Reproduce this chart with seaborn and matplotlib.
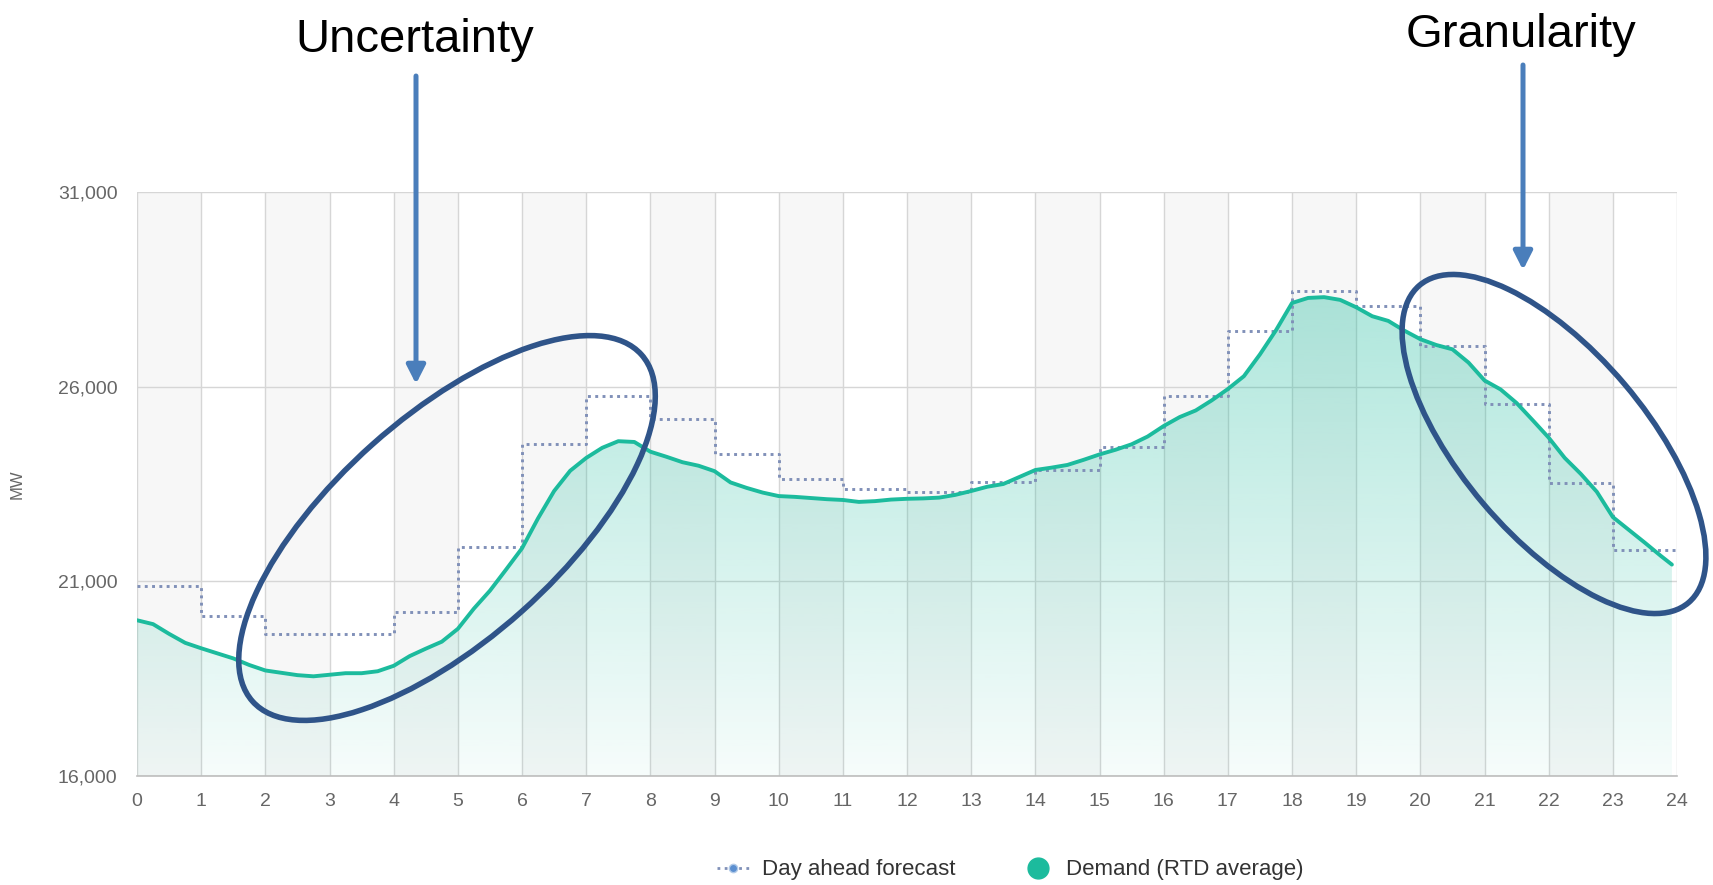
import numpy as np
import pandas as pd
import matplotlib
matplotlib.use("Agg")
import matplotlib.pyplot as plt
import matplotlib.colors as mcolors
import seaborn as sns
from matplotlib.patches import Ellipse
from matplotlib.lines import Line2D
from matplotlib.ticker import FuncFormatter

# ---- data -------------------------------------------------------------
# Real-time demand, quarter-hour readings (MW)
demand_hours = [i * 0.25 for i in range(96)] + [23.92]
demand_mw = [
    20000, 19900, 19650, 19420, 19280, 19150, 19020, 18850,   # 0-2
    18710, 18650, 18590, 18560, 18600, 18640, 18640, 18690,   # 2-4
    18830, 19080, 19270, 19450, 19780, 20300, 20760, 21300,   # 4-6
    21850, 22620, 23320, 23840, 24170, 24430, 24600, 24580,   # 6-8
    24330, 24200, 24060, 23970, 23830, 23540, 23400, 23280,   # 8-10
    23190, 23170, 23140, 23110, 23090, 23040, 23060, 23100,   # 10-12
    23120, 23130, 23150, 23220, 23320, 23430, 23500, 23680,   # 12-14
    23860, 23920, 23990, 24120, 24260, 24380, 24520, 24720,   # 14-16
    24990, 25220, 25390, 25650, 25940, 26270, 26830, 27450,   # 16-18
    28150, 28280, 28300, 28230, 28040, 27810, 27690, 27440,   # 18-20
    27220, 27070, 26960, 26620, 26160, 25930, 25580, 25140,   # 20-22
    24690, 24170, 23760, 23300, 22650, 22320, 21990, 21650,   # 22-24
    21430,
]

# Day-ahead hourly forecast (MW), one value per hour 0..23
forecast_hours = list(range(25))
forecast_mw = [
    20880, 20100, 19650, 19650, 20210, 21890, 24540, 25760,
    25160, 24270, 23640, 23360, 23300, 23550, 23860, 24440,
    25770, 27440, 28470, 28080, 27050, 25560, 23520, 21810,
]
forecast_steps = forecast_mw + [forecast_mw[-1]]

x_ticks = list(range(25))
y_ticks = [16000, 21000, 26000, 31000]
legend_labels = ["Day ahead forecast", "Demand (RTD average)"]
callout_labels = ["Uncertainty", "Granularity"]

# ---- style ------------------------------------------------------------
sns.set_theme(style="white")
plt.rcParams["font.family"] = ["Liberation Sans", "DejaVu Sans"]

TEAL = "#1cbb9d"
FORECAST = "#8090b8"
GRID = "#d6d6d6"
BAND = "#f7f7f7"
TICK = "#666666"

fig = plt.figure(figsize=(17.13, 8.85), dpi=100)
ax = fig.add_axes([0.080, 0.1232, 0.899, 0.6598])

# alternating hour bands
for h in range(0, 24, 2):
    ax.axvspan(h, h + 1, color=BAND, lw=0, zorder=0)

# gradient area under the demand curve
area = ax.fill_between(demand_hours, demand_mw, y_ticks[0],
                       facecolor="none", edgecolor="none")
grad = np.zeros((256, 1, 4))
grad[..., :3] = mcolors.to_rgb(TEAL)
grad[:, 0, 3] = np.linspace(0.42, 0.04, 256)
img = ax.imshow(grad, extent=[0, 24, y_ticks[0], y_ticks[-1]],
                aspect="auto", origin="upper", zorder=1,
                interpolation="bilinear")
img.set_clip_path(area.get_paths()[0], transform=ax.transData)

df_fc = pd.DataFrame({"hour": forecast_hours, "MW": forecast_steps})
sns.lineplot(data=df_fc, x="hour", y="MW", ax=ax, color=FORECAST,
             lw=2.1, drawstyle="steps-post", linestyle=(0, (1, 1.5)),
             dash_capstyle="butt", zorder=3)

df_rtd = pd.DataFrame({"hour": demand_hours, "MW": demand_mw})
sns.lineplot(data=df_rtd, x="hour", y="MW", ax=ax, color=TEAL,
             lw=2.8, zorder=4)

ax.set_xlim(0, 24)
ax.set_ylim(y_ticks[0], y_ticks[-1])
ax.set_xticks(x_ticks)
ax.set_yticks(y_ticks)
ax.yaxis.set_major_formatter(FuncFormatter(lambda v, p: f"{int(v):,}"))
ax.grid(True, color=GRID, lw=1.0)
ax.set_axisbelow(True)
ax.tick_params(length=0, labelsize=14, colors=TICK)
ax.tick_params(axis="y", pad=14)
ax.tick_params(axis="x", pad=12)
for s in ["left", "right", "top"]:
    ax.spines[s].set_visible(False)
ax.spines["bottom"].set_color("#bdbdbd")
ax.spines["bottom"].set_linewidth(1.2)
ax.set_xlabel("")
ax.set_ylabel("MW", fontsize=12, color=TICK)
ax.yaxis.set_label_coords(-0.073, 0.5)

# legend
h_fc = Line2D([], [], color=FORECAST, lw=2, linestyle=(0, (1, 1.6)),
              marker="o", markersize=6, markerfacecolor="#5b8fd0",
              markeredgecolor="#b3cbe8")
h_rtd = Line2D([], [], lw=0, marker="o", markersize=15, color=TEAL)
fig.legend([h_fc, h_rtd], legend_labels, loc="center",
           bbox_to_anchor=(0.59, 0.017), ncol=2, frameon=False,
           fontsize=16, handlelength=1.4, handletextpad=0.6,
           columnspacing=3.0, labelcolor="#333333")

# callouts drawn in figure pixel space
ov = fig.add_axes([0, 0, 1, 1], zorder=10)
ov.set_xlim(0, 1713)
ov.set_ylim(885, 0)
ov.axis("off")
ov.patch.set_alpha(0)

ARROW = "#4a7ebb"
RING = "#2f5489"
ov.text(415, 40, callout_labels[0], ha="center", va="center",
        fontsize=34, color="black")
ov.text(1521, 35, callout_labels[1], ha="center", va="center",
        fontsize=34, color="black")
arrow_style = dict(arrowstyle="-|>,head_length=0.55,head_width=0.28",
                   color=ARROW, lw=3.6, shrinkA=0, shrinkB=0,
                   mutation_scale=20)
ov.annotate("", xy=(416, 384), xytext=(416, 76), arrowprops=arrow_style)
ov.annotate("", xy=(1523, 270), xytext=(1523, 65), arrowprops=arrow_style)
ov.add_patch(Ellipse((447, 528), width=521, height=224, angle=-41.7,
                     fill=False, ec=RING, lw=4))
ov.add_patch(Ellipse((1554, 444), width=416, height=185, angle=49.7,
                     fill=False, ec=RING, lw=4))

fig.savefig("out.png", dpi=100)
